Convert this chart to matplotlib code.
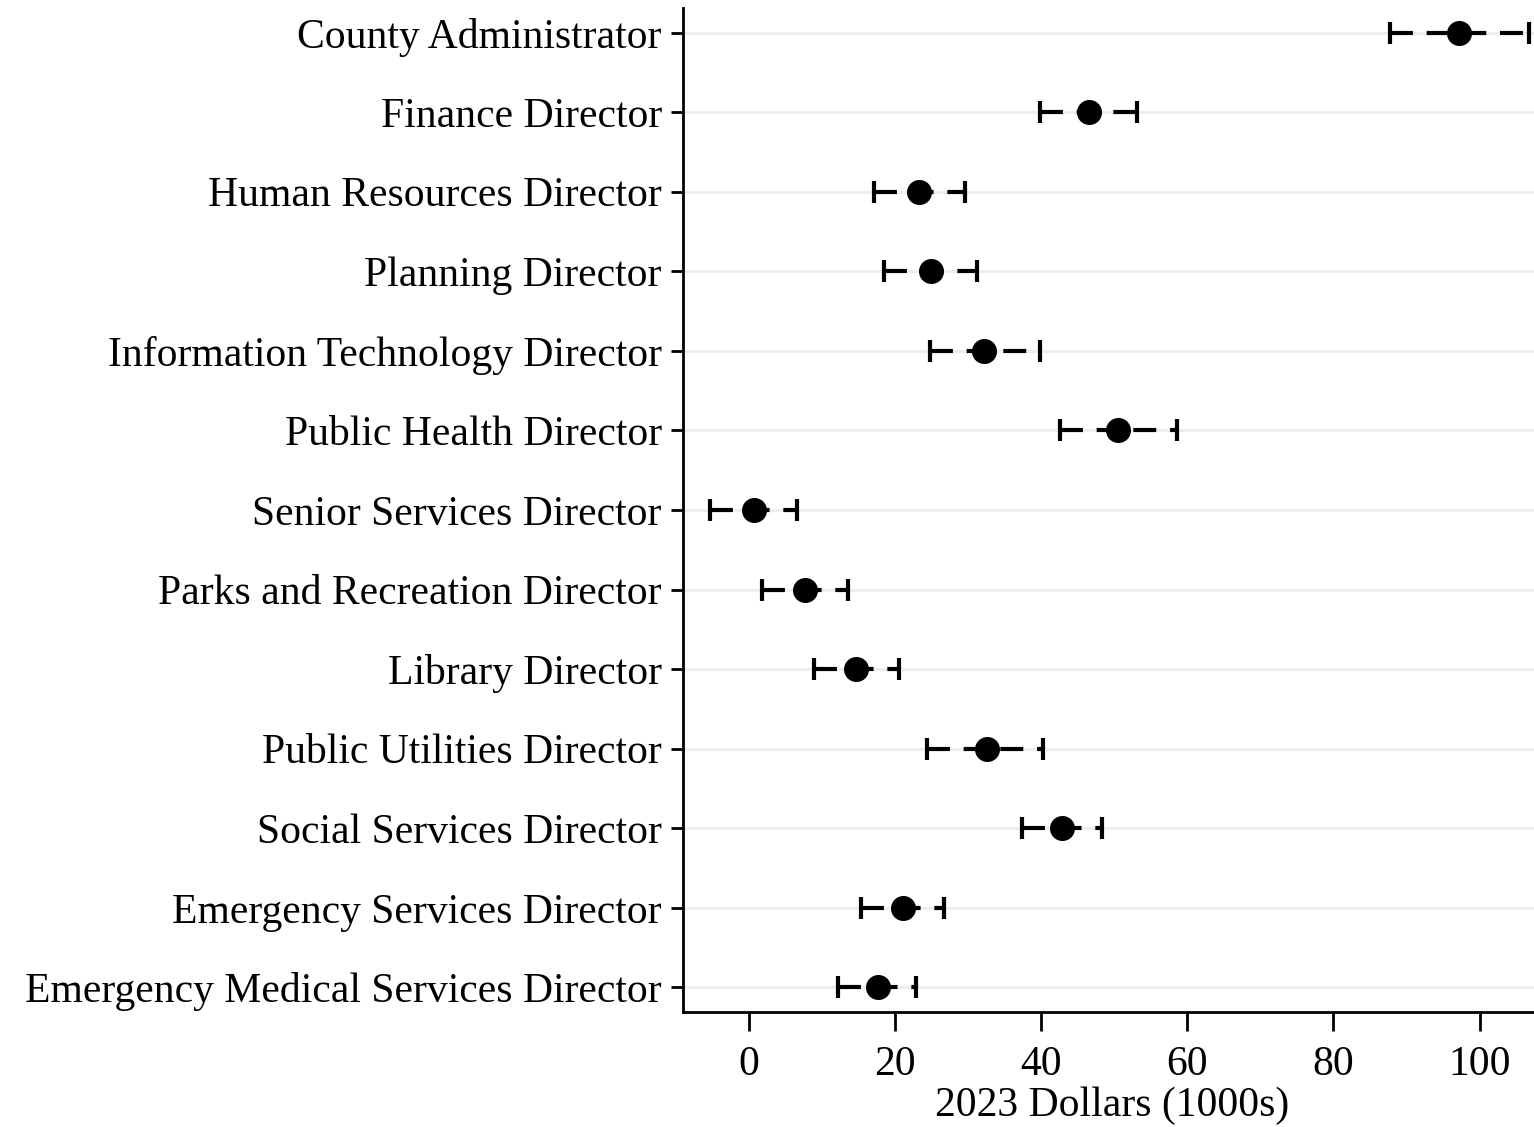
import matplotlib.pyplot as plt

# Cargos y estimaciones (miles de dólares de 2023)
cargos = ['County Administrator', 'Finance Director', 'Human Resources Director',
          'Planning Director', 'Information Technology Director', 'Public Health Director',
          'Senior Services Director', 'Parks and Recreation Director', 'Library Director',
          'Public Utilities Director', 'Social Services Director',
          'Emergency Services Director', 'Emergency Medical Services Director']
estimacion = [97.2, 46.5, 23.2, 24.9, 32.2, 50.5, 0.7, 7.6, 14.7, 32.5, 42.9, 21.0, 17.6]
ic_bajo = [87.8, 39.8, 17.1, 18.4, 24.8, 42.5, -5.4, 1.8, 8.9, 24.3, 37.4, 15.3, 12.2]
ic_alto = [106.7, 53.1, 29.6, 31.2, 39.8, 58.6, 6.5, 13.5, 20.5, 40.3, 48.3, 26.7, 22.8]

plt.rcParams['font.family'] = ['Liberation Serif', 'DejaVu Serif']

fig = plt.figure(figsize=(15.34, 11.27), dpi=100)
ax = fig.add_axes([0.445, 0.102, 0.56, 0.891])

pos = list(range(len(cargos)))

# Líneas guía horizontales
for p in pos:
    ax.axhline(p, color='#e6eff1', lw=2.2, zorder=0)

# Intervalos de confianza discontinuos con extremos
ax.hlines(pos, ic_bajo, ic_alto, colors='black', lw=3, linestyles=(0, (5.5, 3.3)), zorder=2)
ax.plot(ic_bajo, pos, ls='none', marker='|', ms=16, mew=3, color='black', zorder=2)
ax.plot(ic_alto, pos, ls='none', marker='|', ms=16, mew=3, color='black', zorder=2)
ax.plot(estimacion, pos, ls='none', marker='o', ms=17, color='black', zorder=3)

ax.set_xlim(-9.1, 108.5)
ax.set_ylim(len(cargos) - 0.69, -0.31)
ax.set_yticks(pos)
ax.set_yticklabels(cargos)
ax.set_xticks([0, 20, 40, 60, 80, 100])
ax.tick_params(axis='y', labelsize=30, length=9, width=2, pad=6)
ax.tick_params(axis='x', labelsize=30, length=14, width=2, pad=10)
ax.set_xlabel('2023 Dollars (1000s)', fontsize=30, labelpad=2)

for s in ['top', 'right']:
    ax.spines[s].set_visible(False)
for s in ['left', 'bottom']:
    ax.spines[s].set_linewidth(2)

plt.savefig('out.png', dpi=100)
